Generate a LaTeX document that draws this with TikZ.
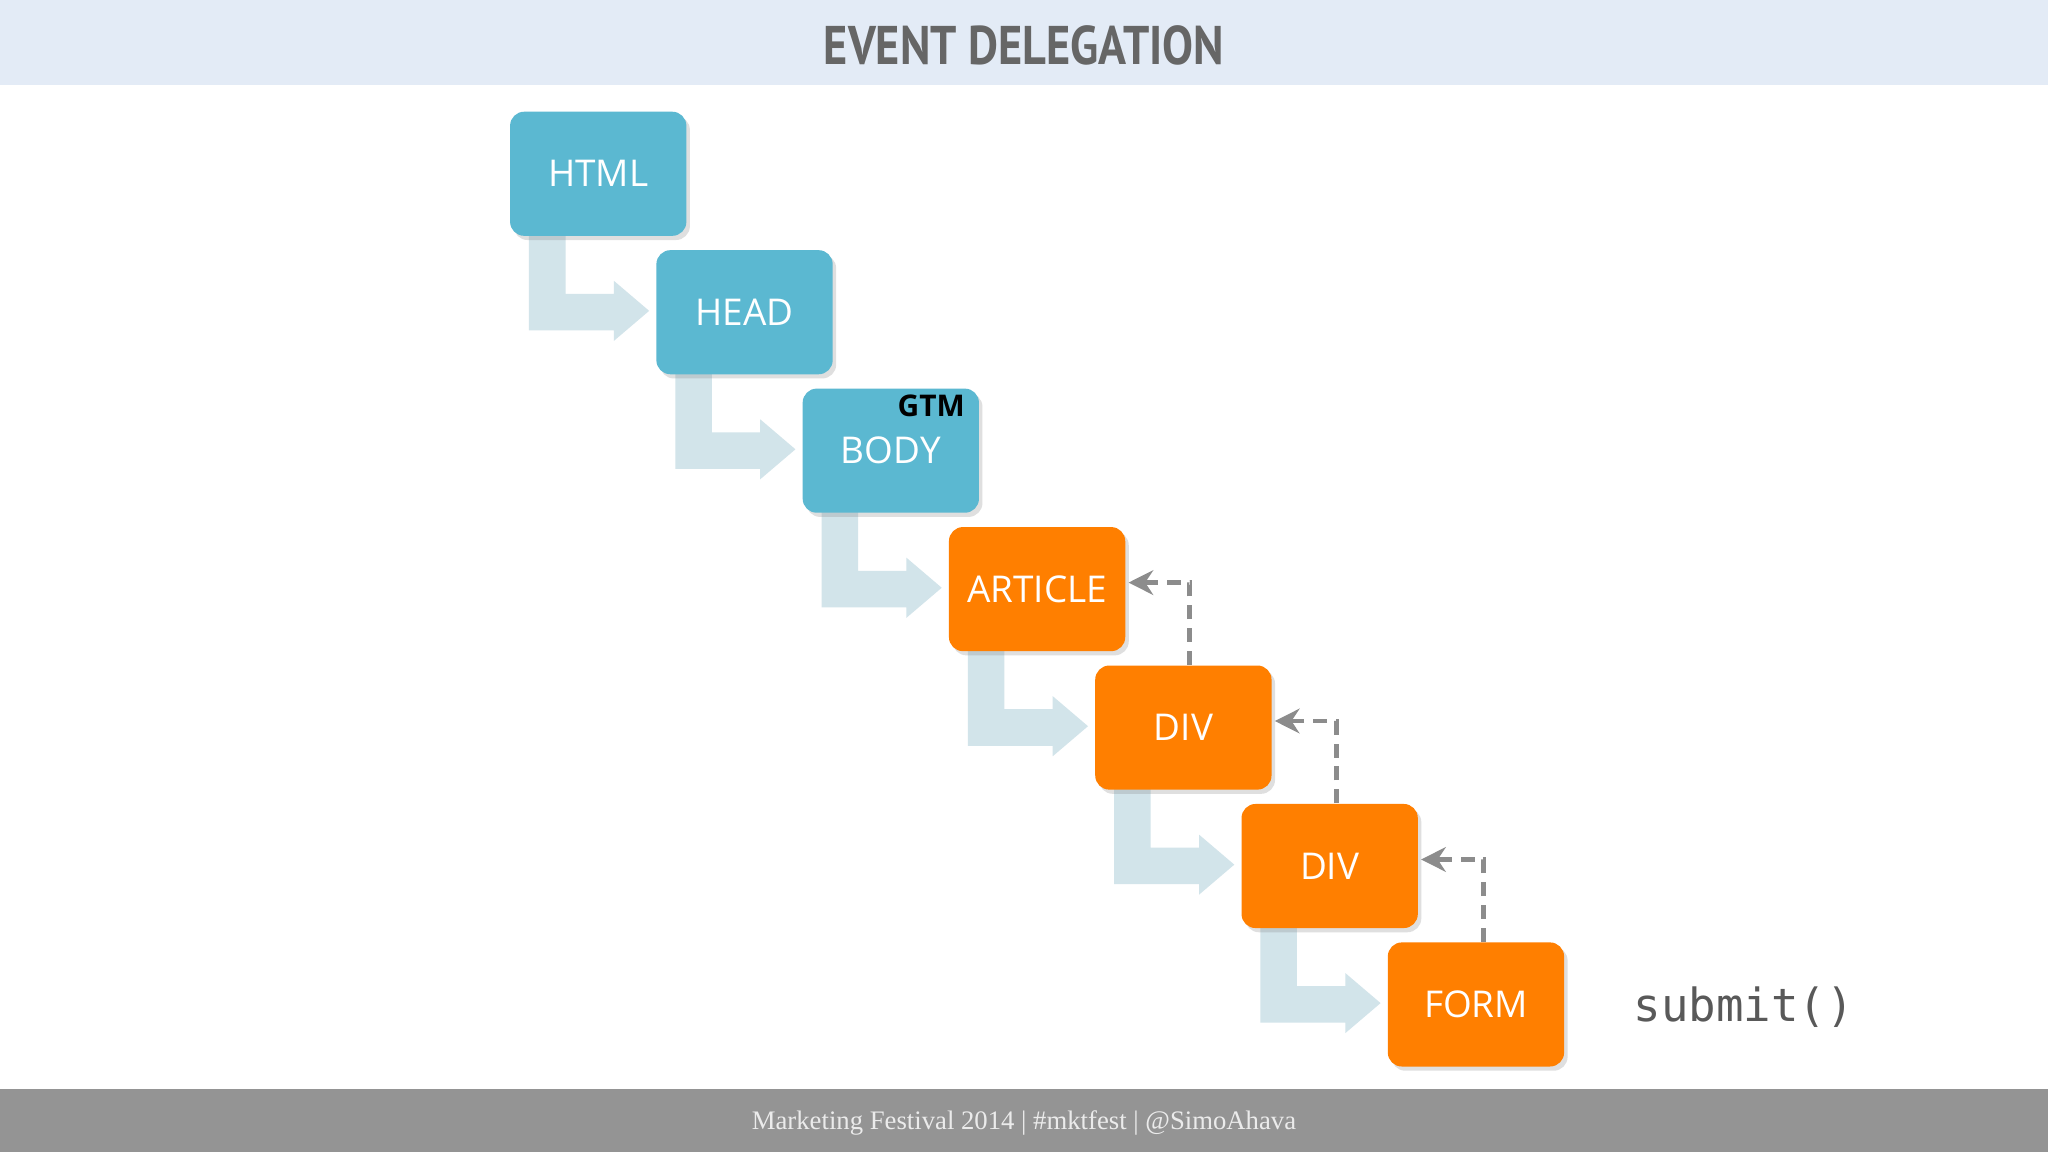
\documentclass[tikz,border=0pt]{standalone}
\usepackage{fontspec}
\setmainfont{Open Sans}
\newfontfamily\titlefont{PT Sans}
\newfontfamily\footfont{Liberation Serif}
\newfontfamily\monofont{DejaVu Sans Mono}
\usetikzlibrary{calc,arrows.meta,shadows}
\definecolor{bandtop}{HTML}{E3EBF6}
\definecolor{bandbot}{HTML}{949494}
\definecolor{boxblue}{HTML}{5BB8D1}
\definecolor{boxorange}{HTML}{FF7F00}
\definecolor{flow}{HTML}{D2E4EA}
\definecolor{dashgray}{HTML}{8C8C8C}
\tikzset{
  elem/.style={rounded corners=4pt, minimum width=1.763cm, minimum height=1.241cm, inner sep=0,
    text=white, font=\fontsize{10.5pt}{12pt}\selectfont, anchor=north west,
    drop shadow={shadow xshift=1pt, shadow yshift=-1.2pt, opacity=0.25}},
  blueb/.style={elem, fill=boxblue},
  orangeb/.style={elem, fill=boxorange},
  back/.style={draw=dashgray, line width=1.4pt, dash pattern=on 4pt off 2.5pt, -{Stealth[length=7pt,width=7pt]}}
}
\begin{document}
\begin{tikzpicture}[x=0.013061cm, y=-0.013061cm]
\useasboundingbox (0,0) rectangle (1568,882);
\fill[white] (0,0) rectangle (1568,882);
\fill[bandtop] (0,0) rectangle (1568,65);
\fill[bandbot] (0,834) rectangle (1568,882);
\node[text=black!60, font=\titlefont\bfseries\fontsize{15.5pt}{18pt}\selectfont] (title) at (784,35) {\scalebox{0.85}[1]{EVENT DELEGATION}};
\node[text=white!92!black, font=\footfont\fontsize{7.6pt}{9pt}\selectfont] (foot) at (784,860) {Marketing Festival 2014 \textbar{} \#mktfest \textbar{} @SimoAhava};
% elbow arrows
\foreach \i in {0,...,5}{
  \pgfmathsetmacro{\bx}{390+112*\i}
  \pgfmathsetmacro{\by}{85+106*\i}
  \fill[flow] (\bx+15,\by+95) -- (\bx+43,\by+95) -- (\bx+43,\by+140) -- (\bx+80,\by+140)
     -- (\bx+80,\by+130) -- (\bx+107,\by+153) -- (\bx+80,\by+176) -- (\bx+80,\by+168)
     -- (\bx+15,\by+168) -- cycle;
}
\node[blueb] (html) at (390,85) {HTML};
\node[blueb] (head) at (502,191) {HEAD};
\node[blueb] (body) at (614,297) {BODY};
\node[orangeb] (art) at (726,403) {ARTICLE};
\node[orangeb] (div1) at (838,509) {DIV};
\node[orangeb] (div2) at (950,615) {DIV};
\node[orangeb] (form) at (1062,721) {FORM};
\node[font=\bfseries\fontsize{8.5pt}{10pt}\selectfont, text=black] (gtm) at (713,311) {GTM};
\node[font=\monofont\fontsize{13pt}{15pt}\selectfont, text=black!65] (submit) at (1335,771) {submit()};
\draw[back] ($(div1.north east)+(-63,0)$) |- ($(art.east)+(2,-5)$);
\draw[back] ($(div2.north east)+(-63,0)$) |- ($(div1.east)+(2,-5)$);
\draw[back] ($(form.north east)+(-62,0)$) |- ($(div2.east)+(2,-5)$);
\end{tikzpicture}
\end{document}
